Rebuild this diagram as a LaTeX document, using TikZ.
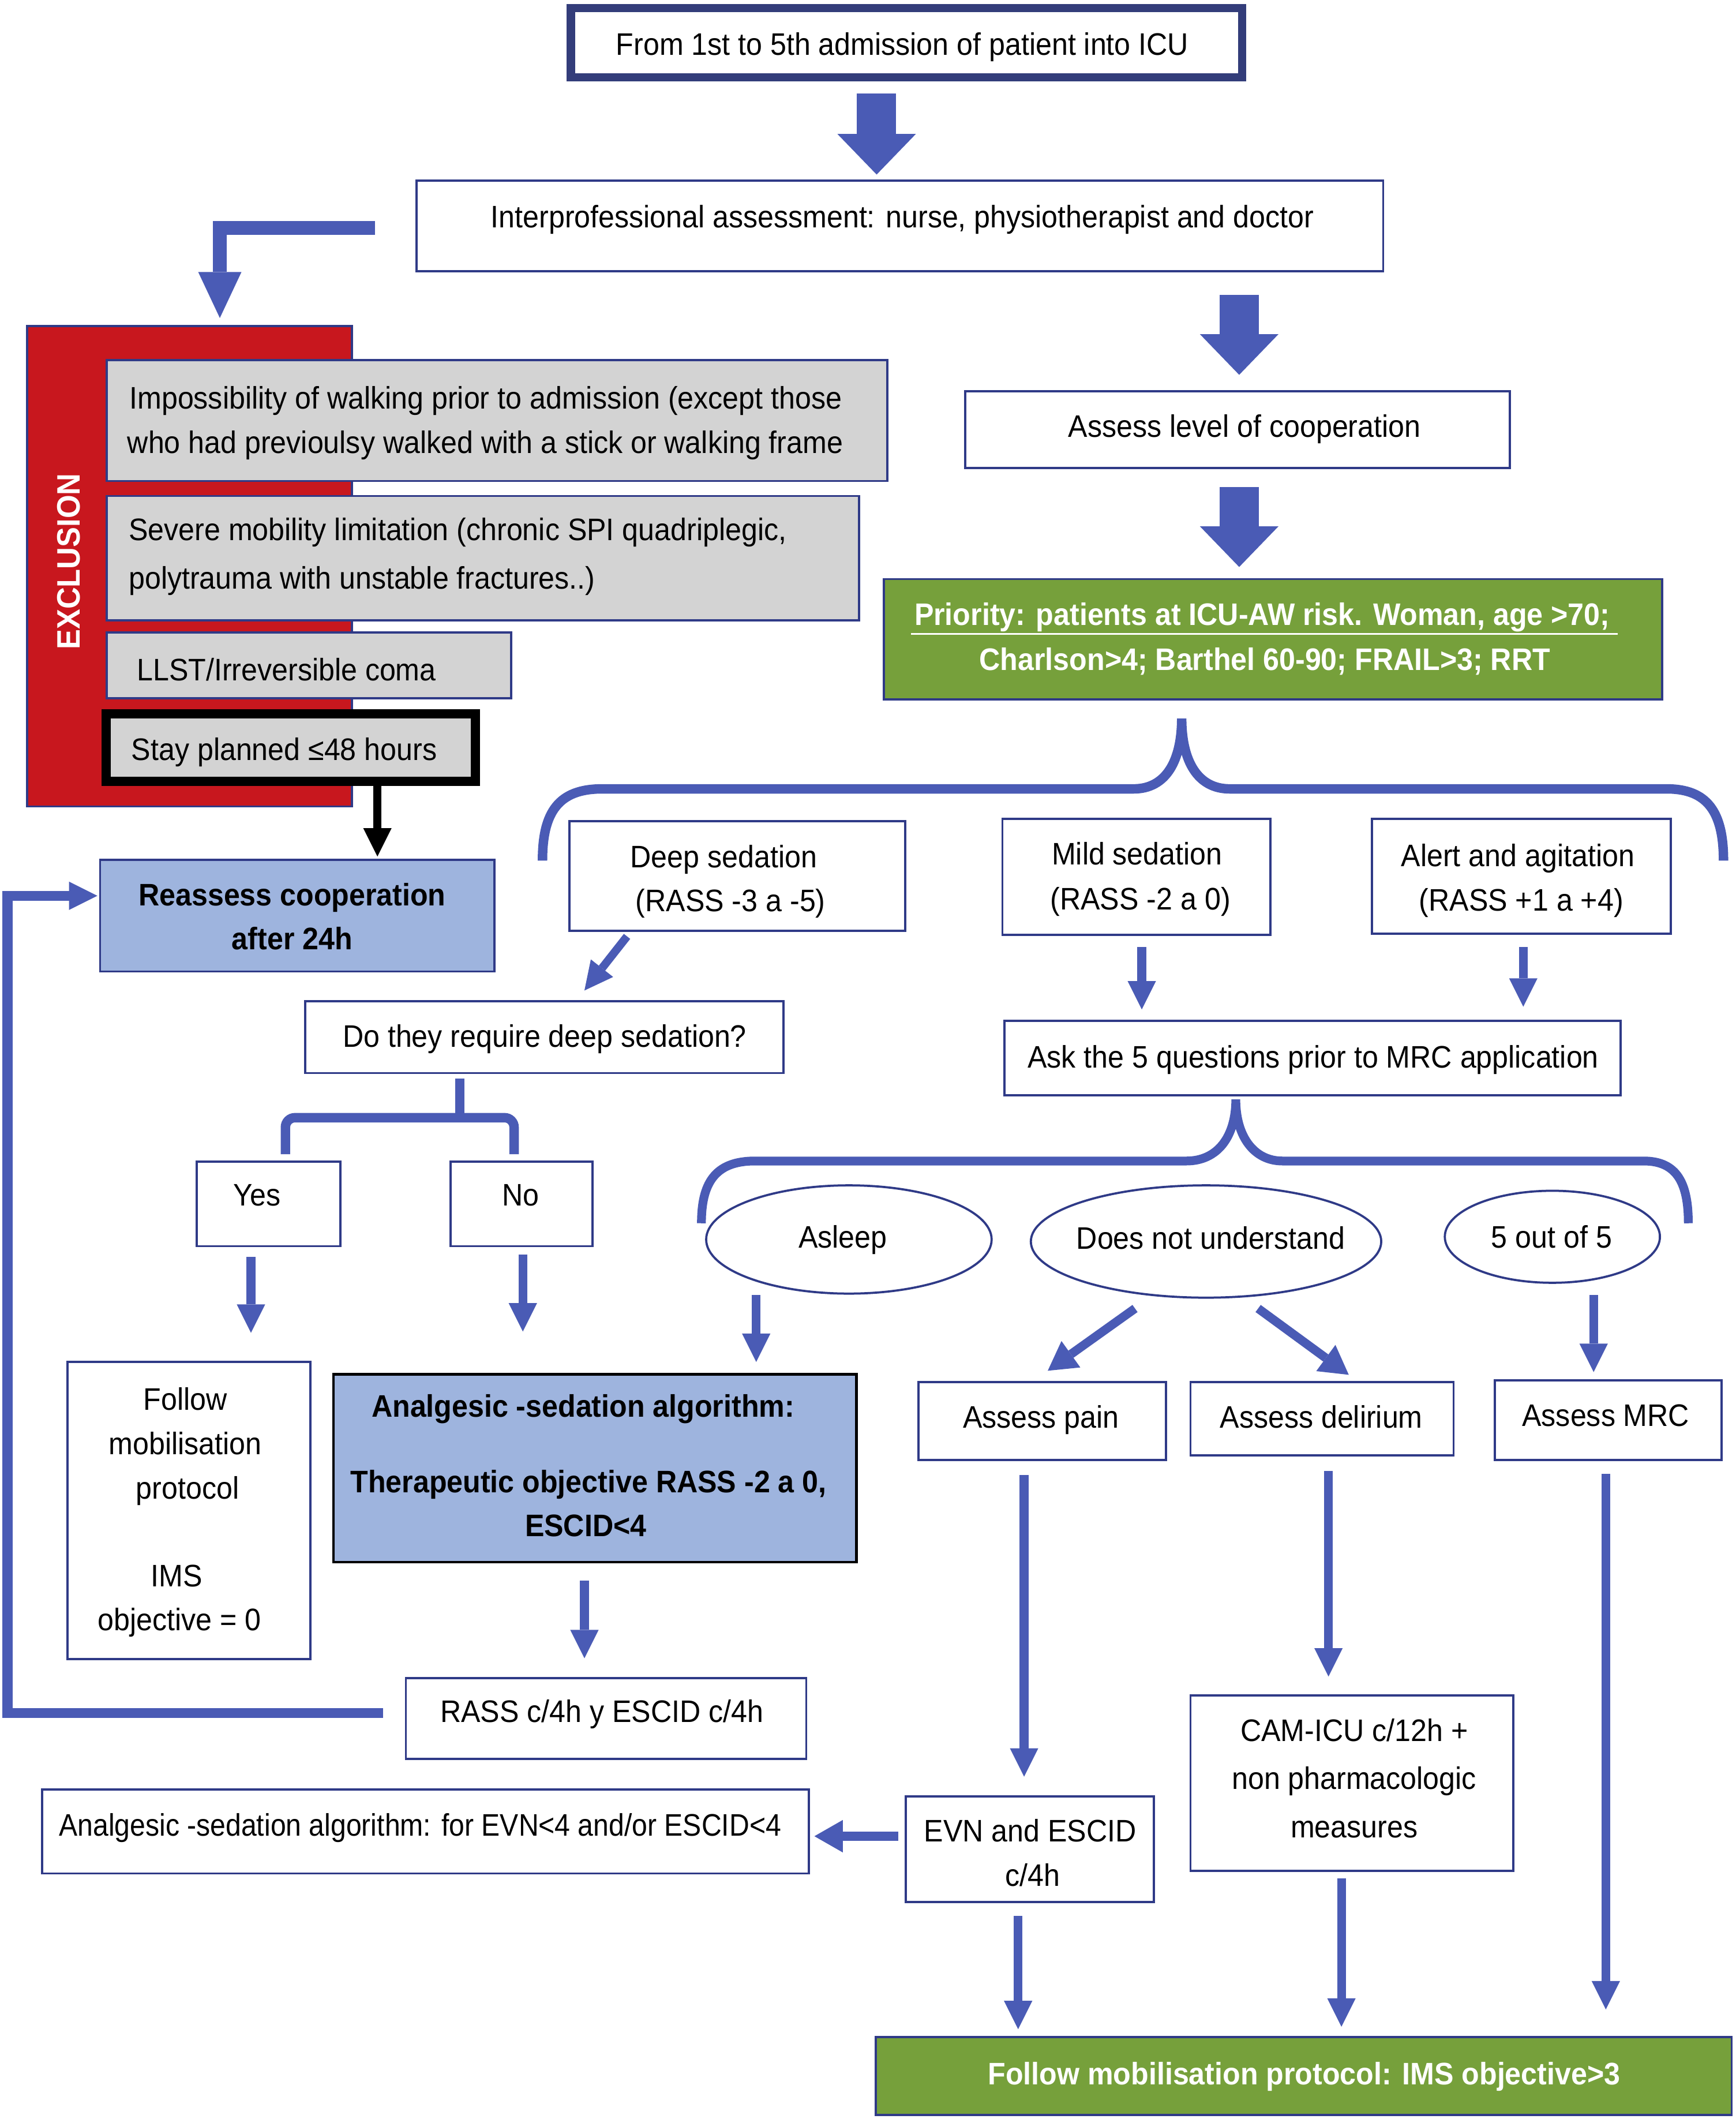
\documentclass[tikz,border=0pt]{standalone}
\usepackage{fontspec}
\setmainfont{Liberation Sans}[FakeStretch=0.93]
\usetikzlibrary{fit,shapes.geometric,arrows.meta}
\definecolor{navy}{RGB}{47,58,135}
\definecolor{topnavy}{RGB}{51,61,122}
\definecolor{ablue}{RGB}{74,91,181}
\definecolor{prgreen}{RGB}{118,160,59}
\definecolor{lblue}{RGB}{158,180,222}
\definecolor{exred}{RGB}{200,23,30}
\definecolor{greybox}{RGB}{211,211,211}
\tikzset{
  every node/.style={font=\fontsize{23}{28}\selectfont},
  box/.style={draw=navy, line width=1.6pt, inner sep=0pt, fill=white},
  greyb/.style={box, fill=greybox},
  ell/.style={ellipse, draw=navy, line width=1.6pt, inner sep=0pt, fill=white},
  conn/.style={draw=ablue, line width=6.5pt, -{Triangle[width=21pt,length=21pt,line width=0pt]}},
  bigarr/.style={draw=ablue, line width=29pt, -{Triangle[width=58pt,length=30pt,line width=0pt]}},
  bracel/.style={draw=ablue, line width=7pt},
}
\newcommand\bx[6]{\node[#6, fit={(#2,#3) (#4,#5)}] (#1) {};}
\newcommand\tline[4]{\node[anchor=base, inner sep=0pt] (#1) at (#2,{#3+8.2}) {#4};}
\newcommand\tlinel[4]{\node[anchor=base west, inner sep=0pt] (#1) at (#2,{#3+8.2}) {#4};}
\begin{document}
\begin{tikzpicture}[x=1pt,y=-1pt]
\useasboundingbox (0,0) rectangle (1283,1566);
\fill[white] (0,0) rectangle (1283,1566);

% ---------- top
\bx{top}{422}{6}{918}{57}{box, draw=topnavy, line width=6pt}
\tline{ttop}{667}{32.5}{From 1st to 5th admission of patient into ICU}
\coordinate (a1s) at (648,69); \coordinate (a1e) at (648,129);
\draw[bigarr] (a1s) -- (a1e);

\bx{inter}{308}{133.5}{1022.5}{200.5}{box}
\tline{tinter}{667}{160}{Interprofessional assessment: nurse, physiotherapist and doctor}

% bent arrow to exclusion
\coordinate (bs) at (277,168.5); \coordinate (bc) at (162.5,168.5); \coordinate (be) at (162.5,235);
\draw[draw=ablue, line width=10.5pt, line join=miter, -{Triangle[width=32pt,length=34pt,line width=0pt]}] (bs) -- (bc) -- (be);

\coordinate (a2s) at (916,218); \coordinate (a2e) at (916,277);
\draw[bigarr] (a2s) -- (a2e);
\bx{assess}{713.5}{289}{1116}{346}{box}
\tline{tassess}{920}{315}{Assess level of cooperation}
\coordinate (a3s) at (916,360); \coordinate (a3e) at (916,419);
\draw[bigarr] (a3s) -- (a3e);

\bx{prio}{653.5}{428}{1228.5}{517}{box, fill=prgreen}
\tline{tprio1}{933}{454}{\color{white}\bfseries Priority: patients at ICU-AW risk. Woman, age >70;}
\tline{tprio2}{935}{487}{\color{white}\bfseries Charlson>4; Barthel 60-90; FRAIL>3; RRT}
\draw[white, line width=1.5pt] (673.6,468.5) -- (1196,468.5);

% ---------- exclusion panel
\bx{excl}{20}{241}{260}{596}{box, fill=exred}
\node[rotate=90, text=white, inner sep=0pt, font=\fontsize{24}{28}\selectfont\bfseries] (texcl) at (51,415) {EXCLUSION};
\bx{g1}{79}{266}{656}{355.5}{greyb}
\tlinel{tg1a}{95.5}{294}{Impossibility of walking prior to admission (except those}
\tlinel{tg1b}{94}{327}{who had previoulsy walked with a stick or walking frame}
\bx{g2}{79}{366.5}{635}{458.5}{greyb}
\tlinel{tg2a}{95}{391}{Severe mobility limitation (chronic SPI quadriplegic,}
\tlinel{tg2b}{95}{427}{polytrauma with unstable fractures..)}
\bx{g3}{79}{467.5}{378}{516}{greyb}
\tlinel{tg3}{101}{495}{LLST/Irreversible coma}
\bx{stay}{78.5}{527.5}{351.5}{577.5}{greyb, draw=black, line width=7pt}
\tlinel{tstay}{97}{553.5}{Stay planned ≤48 hours}

\coordinate (ks) at (279,581); \coordinate (ke) at (279,633);
\draw[draw=black, line width=6pt, -{Triangle[width=21pt,length=21pt,line width=0pt]}] (ks) -- (ke);

\bx{reas}{74}{635.5}{365.5}{718}{box, fill=lblue}
\tline{treas1}{216}{661}{\bfseries Reassess cooperation}
\tline{treas2}{216}{693.5}{\bfseries after 24h}

% ---------- brace 1
\draw[bracel] (401,636) .. controls (401,600) and (413,583) .. (445,583) -- (838,583)
  .. controls (862,583) and (873.5,562) .. (873.5,531)
  .. controls (873.5,562) and (885,583) .. (909,583) -- (1232,583)
  .. controls (1262,583) and (1274,600) .. (1274,636);

\bx{deep}{421}{607}{669}{688}{box}
\tline{tdeep1}{535}{633}{Deep sedation}
\tline{tdeep2}{540}{665.5}{(RASS -3 a -5)}
\bx{mild}{741}{605}{939}{691}{box}
\tline{tmild1}{840.5}{631}{Mild sedation}
\tline{tmild2}{843}{664}{(RASS -2 a 0)}
\bx{alert}{1014}{605}{1235}{690}{box}
\tline{talert1}{1122}{632}{Alert and agitation}
\tline{talert2}{1124.5}{665}{(RASS +1 a +4)}

\coordinate (ds) at (463.5,692); \coordinate (de) at (432,732);
\draw[conn, line width=6pt] (ds) -- (de);
\bx{quest}{225.5}{740}{579}{793}{box}
\tline{tquest}{402.6}{765.6}{Do they require deep sedation?}

% small brace
\draw[bracel, rounded corners=7pt] (211,853) -- (211,826) -- (380,826) -- (380,853);
\draw[bracel] (340,797) -- (340,826);

\bx{yes}{145.5}{858.5}{251.5}{921}{box}
\tline{tyes}{190}{883}{Yes}
\bx{no}{333}{858.5}{438}{921}{box}
\tline{tno}{385}{883}{No}
\coordinate (ys) at (185.5,929); \coordinate (ye) at (185.5,985);
\draw[conn] (ys) -- (ye);
\coordinate (ns) at (386.5,927); \coordinate (ne) at (386.5,984);
\draw[conn] (ns) -- (ne);

\coordinate (ms) at (844,700); \coordinate (me) at (844,746);
\draw[conn] (ms) -- (me);
\coordinate (als) at (1126,700); \coordinate (ale) at (1126,744);
\draw[conn] (als) -- (ale);

\bx{ask}{742.5}{754.5}{1198}{809.5}{box}
\tline{task}{970.7}{781}{Ask the 5 questions prior to MRC application}

% brace 2
\draw[bracel, line width=6.5pt] (518.5,904) .. controls (518.5,875) and (528,858) .. (558,858) -- (877,858)
  .. controls (900,858) and (913.5,840) .. (913.5,812.5)
  .. controls (913.5,840) and (927,858) .. (948,858) -- (1215,858)
  .. controls (1240,858) and (1248,875) .. (1248,904);

\node[ell, minimum width=211pt, minimum height=80pt] (asleep) at (627.5,916) {};
\tline{tasleep}{623}{914}{Asleep}
\node[ell, minimum width=259pt, minimum height=83pt] (dnu) at (891.5,917.5) {};
\tline{tdnu}{895}{915}{Does not understand}
\node[ell, minimum width=159pt, minimum height=68pt] (five) at (1147.5,914) {};
\tline{tfive}{1147}{914}{5 out of 5}

\coordinate (ass) at (559,957); \coordinate (ase) at (559,1006.5);
\draw[conn] (ass) -- (ase);
\coordinate (dps) at (839,967); \coordinate (dpe) at (774.5,1013);
\draw[conn, -{Triangle[width=24pt,length=21pt,line width=0pt]}] (dps) -- (dpe);
\coordinate (dds) at (930,967); \coordinate (dde) at (997,1016);
\draw[conn, -{Triangle[width=24pt,length=21pt,line width=0pt]}] (dds) -- (dde);
\coordinate (fs) at (1178,957); \coordinate (fe) at (1178,1014);
\draw[conn] (fs) -- (fe);

\bx{pain}{679}{1021.5}{862}{1079}{box}
\tline{tpain}{769.5}{1047}{Assess pain}
\bx{deli}{880}{1021.5}{1074.5}{1075.5}{box}
\tline{tdeli}{976.7}{1047}{Assess delirium}
\bx{mrc}{1105}{1020}{1272.5}{1079}{box}
\tline{tmrc}{1187}{1046}{Assess MRC}

% ---------- left lower part
\bx{follow}{50}{1006.5}{229.5}{1226}{box}
\tline{tf1}{137}{1034}{Follow}
\tline{tf2}{137}{1066.7}{mobilisation}
\tline{tf3}{138.6}{1099.5}{protocol}
\tline{tf4}{130.5}{1164.5}{IMS}
\tline{tf5}{132.8}{1196.6}{objective = 0}

\bx{analg}{246.5}{1015.5}{633}{1154.5}{box, fill=lblue, draw=black, line width=2pt}
\tline{tan1}{431}{1039}{\bfseries Analgesic -sedation algorithm:}
\tline{tan2}{435}{1095}{\bfseries Therapeutic objective RASS -2 a 0,}
\tline{tan3}{433}{1127.3}{\bfseries ESCID<4}

\coordinate (ars) at (432,1168); \coordinate (are) at (432,1225.5);
\draw[conn] (ars) -- (are);
\bx{rass}{300}{1240}{596}{1300}{box}
\tline{trass}{445}{1264.6}{RASS c/4h y ESCID c/4h}

% feedback loop
\coordinate (ls) at (283,1266); \coordinate (l1) at (5.5,1266); \coordinate (l2) at (5.5,662); \coordinate (le) at (72,662);
\draw[draw=ablue, line width=7.5pt, line join=miter, -{Triangle[width=21pt,length=21pt,line width=0pt]}] (ls) -- (l1) -- (l2) -- (le);

\bx{bl}{31}{1322.5}{598}{1384.5}{box}
\tlinel{tbl}{43.5}{1348.6}{\scalebox{0.96}[1]{Analgesic -sedation algorithm: for EVN<4 and/or ESCID<4}}

% ---------- right lower part
\coordinate (ps) at (757,1090); \coordinate (pe) at (757,1313);
\draw[conn] (ps) -- (pe);
\coordinate (cs) at (982,1087); \coordinate (ce) at (982,1239);
\draw[conn] (cs) -- (ce);
\coordinate (rs) at (1187,1089); \coordinate (re) at (1187,1485);
\draw[conn] (rs) -- (re);

\bx{cam}{880}{1253}{1118.5}{1382.5}{box}
\tline{tcam1}{1001}{1278.6}{CAM-ICU c/12h +}
\tline{tcam2}{1001}{1314}{non pharmacologic}
\tline{tcam3}{1001}{1350}{measures}

\bx{evn}{669.5}{1327.5}{853}{1405.5}{box}
\tline{tevn1}{761.6}{1353}{EVN and ESCID}
\tline{tevn2}{763.5}{1385.7}{c/4h}

\coordinate (es) at (664,1357); \coordinate (ee) at (602,1357);
\draw[conn, -{Triangle[width=24pt,length=21pt,line width=0pt]}] (es) -- (ee);
\coordinate (efs) at (752.6,1416); \coordinate (efe) at (752.6,1499.6);
\draw[conn] (efs) -- (efe);
\coordinate (cfs) at (991.6,1388); \coordinate (cfe) at (991.6,1497.8);
\draw[conn] (cfs) -- (cfe);

\bx{final}{647.5}{1505.5}{1280}{1563}{box, fill=prgreen}
\tline{tfinal}{964}{1532.5}{\color{white}\bfseries Follow mobilisation protocol: IMS objective>3}
\end{tikzpicture}
\end{document}
